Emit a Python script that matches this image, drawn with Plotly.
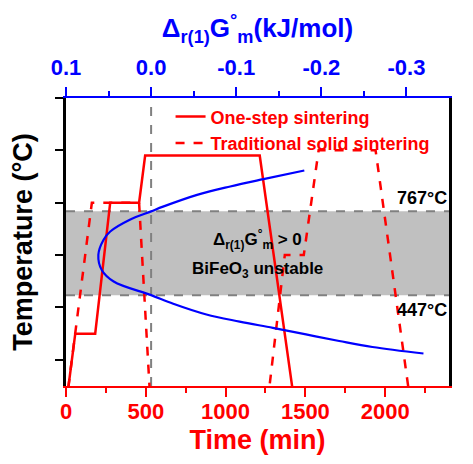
"""Profil sintering vs. kestabilan termodinamika BiFeO3 (Plotly)."""

import plotly.graph_objects as go

# Profil suhu (menit, °C)
ONE_STEP_TIME = [0, 58, 183, 277, 458, 496, 1214, 1434]
ONE_STEP_TEMP = [25, 300, 300, 800, 800, 980, 980, 25]

TRAD_TIME = [0, 162, 458, 530, 1261, 1371, 1490, 1583, 1940, 2161]
TRAD_TEMP = [25, 800, 800, 25, 25, 600, 600, 1000, 1000, 25]

# Kurva Δr(1)G°m terhadap suhu
DG_VALUES = [-0.180, -0.132, -0.093, -0.054, -0.014, 0.000, 0.025, 0.048, 0.056, 0.062,
             0.058, 0.044, 0.000, -0.026, -0.065, -0.104, -0.143,
             -0.182, -0.221, -0.260, -0.320]
DG_TEMP = [923, 890, 862, 830, 785, 767, 735, 690, 658, 601,
           543, 499, 447, 414, 373, 346, 322,
           297, 272, 249, 224]

DG_TICKS = [0.1, 0.0, -0.1, -0.2, -0.3]
DG_TICK_LABELS = ["0.1", "0.0", "-0.1", "-0.2", "-0.3"]

BATAS_ATAS = 767
BATAS_BAWAH = 447

MERAH = "#ff0000"
BIRU = "#0000ff"
ABU = "#808080"
FONT = "Arial, 'Liberation Sans', sans-serif"

fig = go.Figure()

fig.add_trace(go.Scatter(
    x=ONE_STEP_TIME, y=ONE_STEP_TEMP, mode="lines", name="One-step sintering",
    line=dict(color=MERAH, width=2.5),
))
fig.add_trace(go.Scatter(
    x=TRAD_TIME, y=TRAD_TEMP, mode="lines", name="Traditional solid sintering",
    line=dict(color=MERAH, width=2.5, dash="dash"),
))
fig.add_trace(go.Scatter(
    x=DG_VALUES, y=DG_TEMP, mode="lines", xaxis="x2", showlegend=False,
    line=dict(color=BIRU, width=2.2, shape="spline"),
))

# pita ketidakstabilan + garis putus-putus batasnya
fig.add_shape(type="rect", xref="paper", x0=0, x1=1, y0=BATAS_BAWAH, y1=BATAS_ATAS,
              fillcolor="#c0c0c0", line_width=0, layer="below")
for batas in (BATAS_ATAS, BATAS_BAWAH):
    fig.add_shape(type="line", xref="paper", x0=0, x1=1, y0=batas, y1=batas,
                  line=dict(color=ABU, width=2, dash="dash"), layer="below")
fig.add_shape(type="line", xref="x2", yref="paper", x0=0, x1=0, y0=0, y1=1,
              line=dict(color=ABU, width=2, dash="dash"), layer="below")

teks = dict(family=FONT, size=17, color="black", weight="bold")
fig.add_annotation(x=0.5, xref="paper", y=661, text="Δ<sub>r(1)</sub>G<sup>°</sup><sub>m</sub> &gt; 0",
                   showarrow=False, font=teks)
fig.add_annotation(x=0.5, xref="paper", y=544, text="BiFeO<sub>3</sub> unstable",
                   showarrow=False, font=teks)
fig.add_annotation(x=1, xref="paper", xanchor="right", y=BATAS_ATAS + 52, text="767°C",
                   showarrow=False, font=dict(teks, size=18))
fig.add_annotation(x=1, xref="paper", xanchor="right", y=BATAS_BAWAH - 55, text="447°C",
                   showarrow=False, font=dict(teks, size=18))

# halaman memberi margin 8px pada body, jadi ukuran figur dikurangi 8px
fig.update_layout(
    width=465, height=456, margin=dict(l=58, r=24, t=90, b=78),
    paper_bgcolor="white", plot_bgcolor="white",
    font=dict(family=FONT, weight="bold"),
    legend=dict(x=0.273, y=0.999, xanchor="left", yanchor="top", bgcolor="rgba(0,0,0,0)",
                font=dict(family=FONT, size=18, color=MERAH, weight="bold"),
                tracegroupgap=0, itemwidth=30),
    xaxis=dict(
        range=[0, 2400], tickvals=[0, 500, 1000, 1500, 2000], showgrid=False, zeroline=False,
        ticks="outside", ticklen=9, tickwidth=2, tickcolor=MERAH, automargin=False,
        showline=True, linecolor=MERAH, linewidth=2,
        minor=dict(dtick=250, ticks="outside", ticklen=5, tickwidth=2, tickcolor=MERAH),
        tickfont=dict(family=FONT, size=22, color=MERAH, weight="bold"), ticklabelstandoff=-4,
        title=dict(text="Time (min)", font=dict(family=FONT, size=27, color=MERAH, weight="bold"),
                   standoff=7),
    ),
    xaxis2=dict(
        overlaying="x", side="top", range=[0.1, -0.35], tickvals=DG_TICKS, ticktext=DG_TICK_LABELS,
        showgrid=False, zeroline=False, automargin=False,
        ticks="outside", ticklen=9, tickwidth=2, tickcolor=BIRU,
        showline=True, linecolor=BIRU, linewidth=2,
        minor=dict(tickvals=[0.05, -0.05, -0.15, -0.25], ticks="outside", ticklen=5,
                   tickwidth=2, tickcolor=BIRU),
        tickfont=dict(family=FONT, size=22, color=BIRU, weight="bold"), ticklabelstandoff=3,
        title=dict(text="Δ<sub>r(1)</sub>G<sup>°</sup><sub>m</sub>(kJ/mol)",
                   font=dict(family=FONT, size=26, color=BIRU, weight="bold"), standoff=10),
    ),
    yaxis=dict(
        range=[100, 1200], tick0=0, dtick=200, showticklabels=False, showgrid=False, zeroline=False,
        ticks="outside", ticklen=8, tickwidth=2, tickcolor="black", automargin=False,
        showline=True, linecolor="black", linewidth=2.5, mirror=True,
        title=dict(text="Temperature (°C)", font=dict(family=FONT, size=27, color="black", weight="bold"),
                   standoff=18),
    ),
)

fig.write_html("out.html")
